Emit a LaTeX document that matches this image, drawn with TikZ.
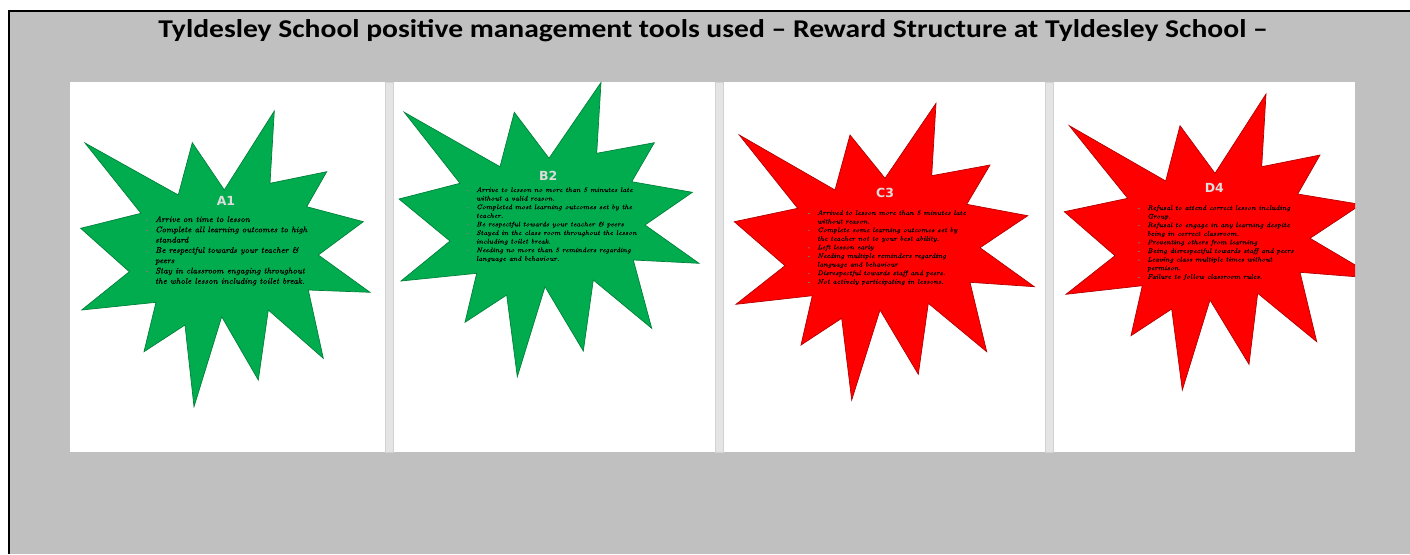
\documentclass[tikz,border=0pt]{standalone}
\usepackage{fontspec}
\newfontfamily\titlefont{Carlito}
\newfontfamily\labfont{DejaVu Sans}
\newfontfamily\listfont{Latin Modern Roman}[FakeBold=0.5]
\usepackage{graphicx}
\definecolor{bggray}{HTML}{C0C0C0}
\definecolor{stripgray}{HTML}{E4E4E4}
\definecolor{stripedge}{HTML}{D2D2D2}
\definecolor{stargreen}{HTML}{00AC4E}
\definecolor{starred}{HTML}{FF0000}
\definecolor{labgray}{HTML}{DCDCDC}
\newlength\dashw \setlength\dashw{10pt}
\newcommand\bl[1]{\hbox{\makebox[\dashw][l]{\textcolor{black!50}{-}}#1}}
\newcommand\cl[1]{\hbox{\hspace*{\dashw}#1}}
\newcommand\biglist[1]{\vtop{\listfont\fontsize{8.3}{10.3}\selectfont\itshape #1}}
\newcommand\smalllist[1]{\vtop{\listfont\fontsize{6.7}{8.6}\selectfont\itshape #1}}
\tikzset{
  panel/.style={fill=white},
  strip/.style={fill=stripgray, draw=stripedge, line width=0.8pt},
  greenstar/.style={fill=stargreen, draw=stargreen!75!black, line width=0.7pt, line join=miter},
  redstar/.style={fill=starred, draw=starred!70!black, line width=0.7pt, line join=miter},
  starlab/.style={inner sep=0pt, text=labgray, font=\labfont\bfseries\fontsize{12.5}{15}\selectfont},
  listnode/.style={inner sep=0pt, anchor=base west, text=black}
}
\begin{document}
\begin{tikzpicture}[x=1pt,y=-1pt]
\useasboundingbox (0,0) rectangle (1410,554);
\fill[white] (0,0) rectangle (1410,554);
\fill[bggray] (9,11) rectangle (1410,554);
\draw[black, line width=2.4pt] (9,554) -- (9,11) -- (1410,11);
\node (title) [anchor=base, inner sep=0pt, font=\titlefont\bfseries\fontsize{25.6}{30}\selectfont] at (713,37)
  {\scalebox{1.155}[1]{Tyldesley School positive management tools used – Reward Structure at Tyldesley School –}};
% panels
\fill[panel] (70,82) rectangle (385,452);
\fill[panel] (393,82) rectangle (715,452);
\fill[panel] (723,82) rectangle (1045,452);
\fill[panel] (1053,82) rectangle (1355,452);
\draw[strip] (385,82) rectangle (393,452);
\draw[strip] (715,82) rectangle (723,452);
\draw[strip] (1045,82) rectangle (1053,452);
% stars
\draw[greenstar] (85,143) -- (178.3,195) -- (192.3,142.7) -- (224.3,190) -- (274.3,111) -- (270,183.3) -- (326.7,171.7) -- (306.7,206.7) -- (363.3,221.7) -- (318.3,255) -- (370,292.3) -- (308.3,290) -- (323.3,358.3) -- (268.3,310) -- (258.3,380) -- (221.7,316.7) -- (194,406.7) -- (185,325) -- (144,351.7) -- (156,302.3) -- (81.7,310) -- (129.3,271.7) -- (80.7,228.3) -- (141,213.3) -- cycle;
\draw[greenstar] (404.3,112.3) -- (500,166.7) -- (514.3,112.3) -- (549,158.3) -- (601,82.5) -- (596.7,153.3) -- (654.3,142.7) -- (631.7,181.7) -- (692.3,192.3) -- (645,225) -- (699,263.3) -- (633.3,260) -- (651.7,328.3) -- (593.3,280) -- (583.3,351) -- (545,286.7) -- (517.3,376.7) -- (506.7,295) -- (465,322.3) -- (476.7,273.3) -- (401,281) -- (450,241) -- (399,199) -- (460,183.3) -- cycle;
\draw[redstar] (739.3,135) -- (835,190) -- (850,135) -- (885,178.3) -- (936,103.3) -- (931.7,175.7) -- (990,165) -- (966.7,204.3) -- (1027.7,215.7) -- (980,247.7) -- (1034.3,286.7) -- (970,282.3) -- (986.7,351.7) -- (928.3,303.3) -- (918.3,374.3) -- (880,310) -- (851.7,400) -- (841.7,318.3) -- (801,345) -- (812.3,295.7) -- (736,304.3) -- (785,265.7) -- (734.3,221.7) -- (797.7,208.3) -- cycle;
\begin{scope}
\clip (1053,82) rectangle (1355,452);
\draw[redstar] (1069.3,125.7) -- (1165.7,181) -- (1180,125.7) -- (1215,173.3) -- (1266,94) -- (1261.7,166.7) -- (1320,155) -- (1297.7,194) -- (1361,204.5) -- (1310,238.3) -- (1378,278.5) -- (1300,272.3) -- (1316.7,341.7) -- (1257.7,293.3) -- (1249,364.3) -- (1210,300) -- (1182.3,390) -- (1171.7,309) -- (1131,335.7) -- (1142.3,285.7) -- (1066,294.3) -- (1115,255.7) -- (1064.3,211.7) -- (1127.7,198.3) -- cycle;
\end{scope}
% labels
\node (labA) [starlab] at (226,201) {A1};
\node (labB) [starlab] at (548.3,176) {B2};
\node (labC) [starlab] at (885,192.7) {C3};
\node (labD) [starlab] at (1214.3,187.7) {D4};
% lists
\node (listA) [listnode] at (145,222) {\biglist{%
  \bl{Arrive on time to lesson}
  \bl{Complete all learning outcomes to high}
  \cl{standard}
  \bl{Be respectful towards your teacher \&}
  \cl{peers}
  \bl{Stay in classroom engaging throughout}
  \cl{the whole lesson including toilet break.}}};
\node (listB) [listnode] at (466,192) {\smalllist{%
  \bl{Arrive to lesson no more than 5 minutes late}
  \cl{without a valid reason.}
  \bl{Completed most learning outcomes set by the}
  \cl{teacher.}
  \bl{Be respectful towards your teacher \& peers}
  \bl{Stayed in the class room throughout the lesson}
  \cl{including toilet break.}
  \bl{Needing no more than 5 reminders regarding}
  \cl{language and behaviour.}}};
\node (listC) [listnode] at (807,215) {\smalllist{%
  \bl{Arrived to lesson more than 5 minutes late}
  \cl{without reason.}
  \bl{Complete some learning outcomes set by}
  \cl{the teacher not to your best ability.}
  \bl{Left lesson early}
  \bl{Needing multiple reminders regarding}
  \cl{language and behaviour}
  \bl{Disrespectful towards staff and peers.}
  \bl{Not actively participating in lessons.}}};
\node (listD) [listnode] at (1137,210) {\smalllist{%
  \bl{Refusal to attend correct lesson including}
  \cl{Group.}
  \bl{Refusal to engage in any learning despite}
  \cl{being in correct classroom.}
  \bl{Preventing others from learning}
  \bl{Being disrespectful towards staff and peers}
  \bl{Leaving class multiple times without}
  \cl{permison.}
  \bl{Failure to follow classroom rules.}}};
\end{tikzpicture}
\end{document}
